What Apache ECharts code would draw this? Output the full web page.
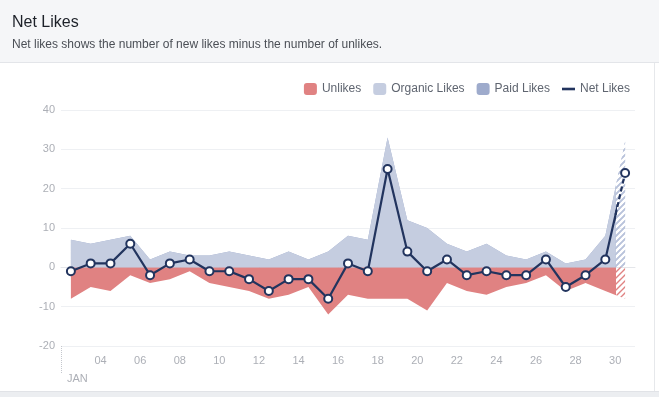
<!DOCTYPE html>
<html>
<head>
<meta charset="utf-8">
<title>Net Likes</title>
<style>
  html, body { margin: 0; padding: 0; background: #fff; }
  #wrap { position: relative; width: 659px; height: 397px; overflow: hidden; }
  .head { position: absolute; left: 0; top: 0; width: 659px; height: 62px; background: #f5f6f8; border-bottom: 1px solid #e3e5e9; }
  .foot { position: absolute; left: 0; top: 391px; width: 659px; height: 6px; background: #eceef1; border-top: 1px solid #e1e3e7; }
  .side { position: absolute; left: 654px; top: 63px; width: 1px; height: 328px; background: #e6e8eb; }
  #chart { position: absolute; left: 0; top: 0; width: 659px; height: 397px; }
</style>
<script src="https://cdn.jsdelivr.net/npm/echarts@6/dist/echarts.min.js"></script>
</head>
<body>
<div id="wrap">
  <div class="head"></div>
  <div class="foot"></div>
  <div class="side"></div>
  <div id="chart"></div>
</div>
<script>
// January days, each value plotted at noon of its day
var days = [2, 3, 4, 5, 6, 7, 8, 9, 10, 11, 12, 13, 14, 15, 16,
            17, 18, 19, 20, 21, 22, 23, 24, 25, 26, 27, 28, 29, 30];
var organicLikes = [7, 6, 7, 8, 2, 4, 3, 3, 4, 3, 2, 4, 2, 4, 8,
                    7, 33, 12, 10, 6, 4, 6, 3, 2, 4, 1, 2, 8, 32];
var paidLikes = [0, 0, 0, 0, 0, 0, 0, 0, 0, 0, 0, 0, 0, 0, 0,
                 0, 0, 0, 0, 0, 0, 0, 0, 0, 0, 0, 0, 0, 0];
var unlikes = [-8, -5, -6, -2, -4, -3, -1, -4, -5, -6, -8, -7, -5, -12, -7,
               -8, -8, -8, -11, -4, -6, -7, -5, -4, -2, -6, -4, -6, -8];
var netLikes = [-1, 1, 1, 6, -2, 1, 2, -1, -1, -3, -6, -3, -3, -8, 1,
                -1, 25, 4, -1, 2, -2, -1, -2, -2, 2, -5, -2, 2, 24];
var dayTicks = [4, 6, 8, 10, 12, 14, 16, 18, 20, 22, 24, 26, 28, 30];
var monthLabel = 'JAN';

// colours
var cRed = '#e08282';
var cOrganic = '#c5cde0';
var cPaid = '#9eabcc';
var cNet = '#22345e';
var cLabel = '#acafb6';
var font = 'Liberation Sans, Arial, sans-serif';

var chart = echarts.init(document.getElementById('chart'));

// [x, y] pairs, x = day + half a day
function pts(arr) {
    return days.map(function (d, i) { return [d + 0.5, arr[i]]; });
}

// paid likes sit on top of organic likes
var likesTotal = organicLikes.map(function (v, i) { return v + paidLikes[i]; });

// diagonal hatch used for the running (incomplete) day
function hatch(color) {
    var c = document.createElement('canvas');
    c.width = 6;
    c.height = 6;
    var g = c.getContext('2d');
    g.strokeStyle = color;
    g.lineWidth = 1.4;
    g.beginPath();
    g.moveTo(0, 6); g.lineTo(6, 0);
    g.moveTo(-1, 1); g.lineTo(1, -1);
    g.moveTo(5, 7); g.lineTo(7, 5);
    g.stroke();
    return { image: c, repeat: 'repeat' };
}

// plot area
var L = 61, R = 635, T = 110, B = 51;
var dayW = (R - L) / 29;
var cut = L + 28 * dayW; // Jan 30 00:00, after this the data is still running

function pad(v) { return (v < 10 ? '0' : '') + v; }

// series for one part (solid part or hatched part)
function parts(xi, dashed) {
    return [{
        name: 'Unlikes', type: 'line', xAxisIndex: xi, yAxisIndex: xi - 1,
        data: pts(unlikes), symbol: 'none', clip: true,
        lineStyle: { width: 0 }, itemStyle: { color: cRed },
        areaStyle: { color: dashed ? hatch(cRed) : cRed, opacity: 1 },
        z: 2, silent: true
    }, {
        name: 'Paid Likes', type: 'line', xAxisIndex: xi, yAxisIndex: xi - 1,
        data: pts(likesTotal), symbol: 'none', clip: true,
        lineStyle: { width: 0 }, itemStyle: { color: cPaid },
        areaStyle: { color: dashed ? hatch(cPaid) : cPaid, opacity: 1 },
        z: 2, silent: true
    }, {
        name: 'Organic Likes', type: 'line', xAxisIndex: xi, yAxisIndex: xi - 1,
        data: pts(organicLikes), symbol: 'none', clip: true,
        lineStyle: { width: 0 }, itemStyle: { color: cOrganic },
        areaStyle: { color: dashed ? hatch('#b9c3db') : cOrganic, opacity: 1 },
        z: 3, silent: true
    }, {
        name: 'Net Likes', type: 'line', xAxisIndex: xi, yAxisIndex: xi - 1,
        data: pts(netLikes), clip: true,
        symbol: 'circle', symbolSize: 8, showAllSymbol: true,
        lineStyle: { color: cNet, width: 2.2, type: dashed ? [5, 3] : 'solid' },
        itemStyle: { color: '#fff', borderColor: cNet, borderWidth: 2 },
        z: 4, silent: true
    }];
}

var option = {
    animation: false,
    textStyle: { fontFamily: font },
    title: {
        text: 'Net Likes',
        subtext: 'Net likes shows the number of new likes minus the number of unlikes.',
        left: 12, top: 15, padding: 0, itemGap: 8,
        textStyle: { fontSize: 16, fontWeight: 'normal', color: '#1d2129', fontFamily: font },
        subtextStyle: { fontSize: 12, color: '#4b4f56', fontFamily: font }
    },
    legend: {
        right: 24, top: 78, itemWidth: 13, itemHeight: 12, itemGap: 12,
        textStyle: { color: '#5f6570', fontSize: 12, fontFamily: font },
        selectedMode: false,
        data: [
            { name: 'Unlikes', icon: 'roundRect', itemStyle: { color: cRed } },
            { name: 'Organic Likes', icon: 'roundRect', itemStyle: { color: cOrganic } },
            { name: 'Paid Likes', icon: 'roundRect', itemStyle: { color: cPaid } },
            { name: 'Net Likes', icon: 'path://M0,0H12V2.4H0Z', itemStyle: { color: cNet, borderWidth: 0 } }
        ]
    },
    grid: [
        { left: L, right: 659 - R, top: T, bottom: B },
        { left: L, width: cut - L, top: T, bottom: B },
        { left: cut, width: R - cut, top: T, bottom: B }
    ],
    xAxis: [{
        gridIndex: 0, type: 'value', min: 2, max: 31, interval: 2,
        axisLine: { lineStyle: { color: '#e4e6ea' } },
        axisTick: { customValues: dayTicks, length: 4, lineStyle: { color: '#cfd2d8' } },
        axisLabel: { customValues: dayTicks, formatter: pad, color: cLabel, fontSize: 11, margin: 9 },
        splitLine: { show: false }
    }, {
        gridIndex: 0, type: 'value', min: 2, max: 31, position: 'bottom',
        axisLine: { show: false },
        axisTick: { customValues: [2], length: 28, lineStyle: { color: '#c4c7cd', type: 'dotted' } },
        axisLabel: { customValues: [2], formatter: function () { return monthLabel; },
            align: 'left', padding: [0, 0, 0, 6], color: cLabel, fontSize: 11, margin: 27 },
        splitLine: { show: false }
    }, {
        gridIndex: 1, type: 'value', min: 2, max: 30, show: false
    }, {
        gridIndex: 2, type: 'value', min: 30, max: 31, show: false
    }],
    yAxis: [{
        gridIndex: 0, type: 'value', min: -20, max: 40, interval: 10,
        axisLine: { show: false }, axisTick: { show: false },
        axisLabel: { color: cLabel, fontSize: 11, margin: 6 },
        splitLine: { lineStyle: { color: '#eef0f3' } }
    }, {
        gridIndex: 1, type: 'value', min: -20, max: 40, show: false
    }, {
        gridIndex: 2, type: 'value', min: -20, max: 40, show: false
    }],
    series: parts(2, false).concat(parts(3, true))
};

chart.setOption(option);
</script>
</body>
</html>
